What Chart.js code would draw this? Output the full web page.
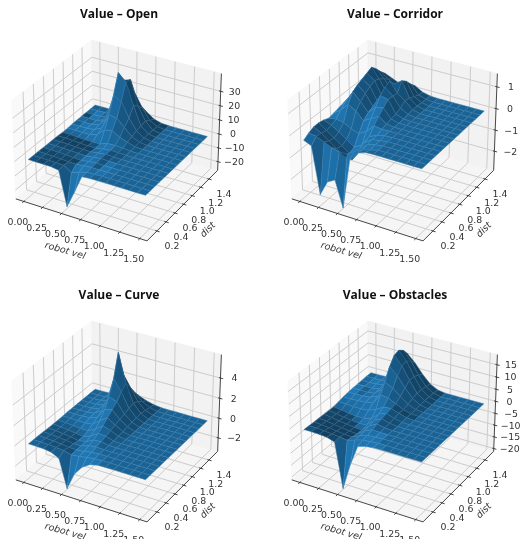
<!DOCTYPE html>
<html>
<head>
<meta charset="utf-8">
<title>Value surfaces</title>
<script src="https://cdn.jsdelivr.net/npm/chart.js@4"></script>
<style>
  html, body { margin: 0; padding: 0; background: #fff; overflow: hidden; }
  body { width: 521px; height: 539px; position: relative; }
  canvas { position: absolute; filter: blur(0.35px); }
</style>
</head>
<body>
<canvas id="open" width="245" height="281" style="left:0;top:0"></canvas>
<canvas id="corridor" width="245" height="281" style="left:276px;top:0"></canvas>
<canvas id="curve" width="245" height="258" style="left:0;top:281px"></canvas>
<canvas id="obstacles" width="245" height="258" style="left:276px;top:281px"></canvas>
<script>
// grid of the surfaces
const robotVel = [0, 0.1, 0.2, 0.3, 0.4, 0.5, 0.6, 0.7, 0.8, 0.9, 1.0, 1.1, 1.2, 1.3, 1.4, 1.5];
const dist = [0.1, 0.2, 0.3, 0.4, 0.5, 0.6, 0.7, 0.8, 0.9, 1.0, 1.1, 1.2, 1.3, 1.4, 1.5];

// one row per dist, one column per robot vel
const valueOpen = [
  [0, 0, -.05, -.1, -1, -25, -13, -.5, -.1, 0, 0, 0, 0, 0, 0, 0],
  [0, -.1, -.25, -.2, -.45, -4, -2, -.4, -.3, -.05, 0, 0, 0, 0, 0, 0],
  [0, -.1, -.3, -.6, -.9, -1.1, -.5, 0, -.2, -.05, 0, 0, 0, 0, 0, 0],
  [-.1, -.2, -.35, -.55, -1, -1.3, -.4, .2, -.1, 0, 0, 0, 0, 0, 0, 0],
  [-.1, -.15, -.3, -.5, -.8, -1, -.3, .3, .05, 0, 0, 0, 0, 0, 0, 0],
  [-.1, -.2, -.35, -.55, -.8, -1, -.3, .4, .1, 0, 0, 0, 0, 0, 0, 0],
  [-.2, -.4, -.6, -.85, -1.1, -1.3, -.3, .5, .2, 0, 0, 0, 0, 0, 0, 0],
  [-.5, -.7, -1, -1.2, -1.4, -1.2, .8, 1, .7, .1, 0, 0, 0, 0, 0, 0],
  [-.4, -.4, -.45, -.4, 1, 6, 7, 4, 2, .4, 0, 0, 0, 0, 0, 0],
  [-.2, -.2, -.1, .5, 3, 14, 13, 8, 3, .6, 0, 0, 0, 0, 0, 0],
  [-.1, -.2, 0, 1, 7, 25, 22, 12, 4.5, .9, 0, 0, 0, 0, 0, 0],
  [0, 0, -.2, 2, 12, 38, 33, 18, 5, 1, 0, 0, 0, 0, 0, 0],
  [0, -.2, .2, 1.5, 9, 30, 32, 15, 6, 1, 0, 0, 0, 0, 0, 0],
  [0, .1, .2, .6, 5, 18, 20, 11, 3.5, .7, 0, 0, 0, 0, 0, 0],
  [0, 0, .1, .3, 2, 8, 10, 5.5, 1.8, .3, 0, 0, 0, 0, 0, 0]
];
const valueCorridor = [
  [-.3, -.45, -2.6, -1.9, -1.7, -2.9, -.55, -.15, -.02, 0, 0, 0, 0, 0, 0, 0],
  [-.15, -.2, -.35, -.5, -.6, -.6, -.35, -.2, -.1, 0, 0, 0, 0, 0, 0, 0],
  [-.05, -.25, -.5, -.75, -1, -1.05, -.45, -.15, -.05, 0, 0, 0, 0, 0, 0, 0],
  [-.05, -.3, -.55, -.8, -1.05, -1, -.35, -.1, -.05, 0, 0, 0, 0, 0, 0, 0],
  [-.1, -.25, -.45, -.7, -.95, -.75, -.25, -.1, -.02, 0, 0, 0, 0, 0, 0, 0],
  [-.2, -.15, -.2, -.4, -.5, -.3, .05, 0, 0, 0, 0, 0, 0, 0, 0, 0],
  [-.15, .1, .45, .25, -.1, .1, .3, .05, 0, 0, 0, 0, 0, 0, 0, 0],
  [-.1, .3, .85, .5, .1, .45, .5, .1, 0, 0, 0, 0, 0, 0, 0, 0],
  [-.05, .4, 1, .7, .2, .8, .7, .15, .02, 0, 0, 0, 0, 0, 0, 0],
  [0, .5, 1.1, .85, .25, 1, .7, .25, .05, 0, 0, 0, 0, 0, 0, 0],
  [.1, .55, 1.2, .95, .3, 1.1, .65, .4, .08, 0, 0, 0, 0, 0, 0, 0],
  [.2, .6, 1.3, .85, .3, .8, 1.05, .35, .08, 0, 0, 0, 0, 0, 0, 0],
  [.25, .6, 1.05, .7, .3, .6, .85, .25, .06, 0, 0, 0, 0, 0, 0, 0],
  [.25, .5, .75, .5, .25, .4, .55, .15, .04, 0, 0, 0, 0, 0, 0, 0],
  [.2, .4, .5, .35, .2, .25, .3, .1, .02, 0, 0, 0, 0, 0, 0, 0]
];
const valueCurve = [
  [0, 0, -.02, -.15, -.5, -3.3, -1.6, -.7, -.2, -.02, 0, 0, 0, 0, 0, 0],
  [0, 0, -.03, -.1, -.15, -.35, -.3, -.15, -.05, 0, 0, 0, 0, 0, 0, 0],
  [0, -.03, -.08, -.15, -.25, -.3, -.2, -.05, 0, 0, 0, 0, 0, 0, 0, 0],
  [-.02, -.06, -.12, -.2, -.32, -.3, -.05, .05, 0, 0, 0, 0, 0, 0, 0, 0],
  [-.04, -.1, -.18, -.28, -.4, -.3, .1, .15, .02, 0, 0, 0, 0, 0, 0, 0],
  [-.05, -.12, -.2, -.3, -.42, -.15, .35, .3, .05, 0, 0, 0, 0, 0, 0, 0],
  [-.05, -.1, -.16, -.24, -.25, .15, .7, .45, .1, 0, 0, 0, 0, 0, 0, 0],
  [-.03, -.05, -.08, -.08, 0, .6, 1.1, .6, .15, 0, 0, 0, 0, 0, 0, 0],
  [0, 0, 0, .05, .3, 1.3, 1.5, .75, .25, 0, 0, 0, 0, 0, 0, 0],
  [0, 0, .02, .1, .6, 2.2, 1.9, .9, .3, .02, 0, 0, 0, 0, 0, 0],
  [0, 0, .03, .15, 1, 3.6, 2.5, 1.1, .35, .03, 0, 0, 0, 0, 0, 0],
  [0, 0, .04, .2, 1.4, 5.8, 3, 1.2, .4, .03, 0, 0, 0, 0, 0, 0],
  [0, 0, .05, .25, 1.1, 3.4, 2.2, 1, .3, .03, 0, 0, 0, 0, 0, 0],
  [0, 0, .03, .2, .7, 1.8, 1.3, .6, .2, .02, 0, 0, 0, 0, 0, 0],
  [0, 0, .02, .1, .35, .8, .6, .3, .1, .01, 0, 0, 0, 0, 0, 0]
];
const valueObstacles = [
  [-1.2, -1.2, -1.3, -1.5, -2.5, -20.8, -10, -1.5, -.5, -.1, 0, 0, 0, 0, 0, 0],
  [-1.3, -1.3, -1.5, -1.9, -2.1, -2.6, -1.5, -.6, -.3, 0, 0, 0, 0, 0, 0, 0],
  [-1.5, -1.7, -2, -2.4, -2.8, -3, -1.5, -.4, -.2, 0, 0, 0, 0, 0, 0, 0],
  [-1.5, -1.9, -2.3, -2.7, -3.1, -3.4, -1.2, .2, 0, 0, 0, 0, 0, 0, 0, 0],
  [-1.6, -2, -2.5, -2.9, -3.3, -3.5, -.8, .8, .2, 0, 0, 0, 0, 0, 0, 0],
  [-1.6, -2.1, -2.6, -3, -3.3, -3.2, -.2, 1.3, .4, 0, 0, 0, 0, 0, 0, 0],
  [-1.7, -2.2, -2.7, -2.9, -2.9, -2.2, .7, 1.8, .7, 0, 0, 0, 0, 0, 0, 0],
  [-1.2, -1.3, -1.5, -1.5, -1.2, 0, 2, 2.2, 1.2, .3, 0, 0, 0, 0, 0, 0],
  [-.8, -.8, -.6, -.4, .2, 4.5, 4, 2.6, 1, .2, 0, 0, 0, 0, 0, 0],
  [-.5, -.3, -.2, .1, 1.5, 8, 6.5, 4, 1.6, .4, 0, 0, 0, 0, 0, 0],
  [-.3, -.2, -.3, .2, 3, 13, 10, 6, 2.4, .6, 0, 0, 0, 0, 0, 0],
  [-.2, -.1, -.2, .5, 4.5, 16, 12.5, 7.5, 3, .8, 0, 0, 0, 0, 0, 0],
  [-.1, -.2, 0, .6, 5, 16.5, 13, 7.5, 3, .8, 0, 0, 0, 0, 0, 0],
  [0, 0, .1, .7, 4.6, 15, 11.5, 6.5, 2.6, .7, 0, 0, 0, 0, 0, 0],
  [0, 0, .1, .6, 3.7, 12, 9, 5.2, 2.1, .5, 0, 0, 0, 0, 0, 0]
];

// axis ticks
const velTicks = [0, 0.25, 0.5, 0.75, 1, 1.25, 1.5];
const velTickLabels = ['0.00', '0.25', '0.50', '0.75', '1.00', '1.25', '1.50'];
const distTicks = [0.2, 0.4, 0.6, 0.8, 1.0, 1.2, 1.4];
const distTickLabels = ['0.2', '0.4', '0.6', '0.8', '1.0', '1.2', '1.4'];
const openTicks = [-20, -10, 0, 10, 20, 30];
const corridorTicks = [-2, -1, 0, 1];
const curveTicks = [-2, 0, 2, 4];
const obstaclesTicks = [-20, -15, -10, -5, 0, 5, 10, 15];

// axis limits
const velLim = [-0.109, 1.59];
const distLim = [-0.014, 1.614];

const VIEW_K = 150.5, VIEW_OX = 118.3, VIEW_OY = 136.4; // view units to canvas px
const BASE = [31, 119, 180]; // surface blue
const LIGHT = [-0.6667, -0.6667, 0.3333]; // az 225, alt 19.47

// same camera as a default mplot3d axes: elev 30, azim -60, box 4:4:3
function project(fx, fy, fz) {
  const dx = fx - 0.5, dy = fy - 0.5, dz = (fz - 0.5) * 0.75;
  const sx = dx * 0.866 + dy * 0.5;
  const sy = -0.25 * dx + 0.433 * dy + 0.866 * dz;
  const depth = 0.433 * dx - 0.75 * dy + 0.5 * dz;
  const f = 10 / (10 - depth);
  return { x: sx * f, y: sy * f, depth };
}

function lineSet(points, color, width) {
  return {
    data: points,
    borderColor: color,
    borderWidth: width,
    pointRadius: 0,
    fill: false
  };
}

function polySet(points, fillColor, edgeColor, width) {
  return {
    data: points.concat([points[0]]),
    borderColor: edgeColor,
    borderWidth: width,
    backgroundColor: fillColor,
    pointRadius: 0,
    fill: 'shape'
  };
}

function shadeColor(a, b, c, d) {
  // normal in data units, as mplot3d does it
  const u = [c.x - a.x, c.y - a.y, c.z - a.z];
  const v = [d.x - b.x, d.y - b.y, d.z - b.z];
  const n = [u[1] * v[2] - u[2] * v[1], u[2] * v[0] - u[0] * v[2], u[0] * v[1] - u[1] * v[0]];
  const len = Math.hypot(n[0], n[1], n[2]) || 1;
  const s = (n[0] * LIGHT[0] + n[1] * LIGHT[1] + n[2] * LIGHT[2]) / len;
  const k = 0.5 + 0.5 * (s + 1) / 2;
  return BASE.map(ch => ch * k);
}

function buildDatasets(grid, zTicks, zLim) {
  const fx = v => (v - velLim[0]) / (velLim[1] - velLim[0]);
  const fy = v => (v - distLim[0]) / (distLim[1] - distLim[0]);
  const fz = v => (v - zLim[0]) / (zLim[1] - zLim[0]);
  const sets = [];

  // panes
  sets.push(polySet([project(0, 0, 0), project(0, 1, 0), project(0, 1, 1), project(0, 0, 1)], '#f9f9f9', '#f4f4f4', 0.5));
  sets.push(polySet([project(0, 1, 0), project(1, 1, 0), project(1, 1, 1), project(0, 1, 1)], '#f2f2f2', '#eeeeee', 0.5));
  sets.push(polySet([project(0, 0, 0), project(1, 0, 0), project(1, 1, 0), project(0, 1, 0)], '#f5f5f5', '#f0f0f0', 0.5));

  // grid lines on the panes
  const gridColor = '#cccccc';
  velTicks.forEach(t => {
    sets.push(lineSet([project(fx(t), 0, 0), project(fx(t), 1, 0), project(fx(t), 1, 1)], gridColor, 1));
  });
  distTicks.forEach(t => {
    sets.push(lineSet([project(1, fy(t), 0), project(0, fy(t), 0), project(0, fy(t), 1)], gridColor, 1));
  });
  zTicks.forEach(t => {
    sets.push(lineSet([project(0, 0, fz(t)), project(0, 1, fz(t)), project(1, 1, fz(t))], gridColor, 1));
  });

  // axis lines and tick marks
  const axisColor = '#333333';
  sets.push(lineSet([project(0, 0, 0), project(1, 0, 0), project(1, 1, 0), project(1, 1, 1)], axisColor, 0.9));
  velTicks.forEach(t => {
    sets.push(lineSet([project(fx(t), -0.02, 0), project(fx(t), 0.012, 0)], axisColor, 0.9));
  });
  distTicks.forEach(t => {
    sets.push(lineSet([project(1.02, fy(t), 0), project(0.988, fy(t), 0)], axisColor, 0.9));
  });
  zTicks.forEach(t => {
    sets.push(lineSet([project(1.02, 1, fz(t)), project(0.988, 1, fz(t))], axisColor, 0.9));
  });

  // surface cells, far ones first
  const cells = [];
  for (let j = 0; j < dist.length - 1; j++) {
    for (let i = 0; i < robotVel.length - 1; i++) {
      const corners = [[i, j], [i + 1, j], [i + 1, j + 1], [i, j + 1]].map(([a, b]) => {
        const p = project(fx(robotVel[a]), fy(dist[b]), fz(grid[b][a]));
        return { sx: p.x, sy: p.y, depth: p.depth, x: robotVel[a], y: dist[b], z: grid[b][a] };
      });
      const color = shadeColor(corners[0], corners[1], corners[2], corners[3]);
      const depth = corners.reduce((sum, c) => sum + c.depth, 0) / 4;
      cells.push({ corners, color, depth });
    }
  }
  cells.sort((a, b) => a.depth - b.depth);
  cells.forEach(cell => {
    const pts = cell.corners.map(c => ({ x: c.sx, y: c.sy }));
    const fillCol = 'rgb(' + cell.color.map(Math.round).join(',') + ')';
    const edgeCol = 'rgb(' + cell.color.map(ch => Math.round(ch + (255 - ch) * 0.16)).join(',') + ')';
    sets.push(polySet(pts, fillCol, edgeCol, 0.5));
  });

  // chart.js paints dataset 0 last
  return sets.reverse();
}

// text of one panel: title, tick labels, axis names
function textPlugin(title, zTicks, zLim) {
  const tickFont = '9.4px "DejaVu Sans"';
  const fx = v => (v - velLim[0]) / (velLim[1] - velLim[0]);
  const fy = v => (v - distLim[0]) / (distLim[1] - distLim[0]);
  const fz = v => (v - zLim[0]) / (zLim[1] - zLim[0]);
  return {
    id: 'panelText',
    afterDatasetsDraw(chart) {
      const ctx = chart.ctx;
      const px = p => ({ x: chart.scales.x.getPixelForValue(p.x), y: chart.scales.y.getPixelForValue(p.y) });
      ctx.save();
      ctx.textAlign = 'center';
      ctx.textBaseline = 'middle';
      ctx.fillStyle = '#111111';
      ctx.font = 'bold 12px "Open Sans"';
      ctx.fillText(title, 119, 15);

      ctx.fillStyle = '#333333';
      ctx.font = tickFont;
      velTicks.forEach((t, n) => {
        const p = px(project(fx(t), 0, 0));
        ctx.fillText(velTickLabels[n], p.x - 6, p.y + 21);
      });
      distTicks.forEach((t, n) => {
        const p = px(project(1, fy(t), 0));
        ctx.fillText(distTickLabels[n], p.x + 15, p.y + 16);
      });
      zTicks.forEach(t => {
        const p = px(project(1, 1, fz(t)));
        const dx = t < 0 ? 16 : 14;
        ctx.fillText(String(t).replace('-', '\u2212'), p.x + dx, p.y + 1);
      });

      ctx.translate(65, 251);
      ctx.rotate(16 * Math.PI / 180);
      ctx.font = 'italic 9.4px "DejaVu Sans"';
      ctx.fillText('robot vel', 0, 0);
      ctx.restore();

      ctx.save();
      ctx.fillStyle = '#333333';
      ctx.textAlign = 'center';
      ctx.textBaseline = 'middle';
      ctx.translate(208, 230);
      ctx.rotate(-45 * Math.PI / 180);
      ctx.font = 'italic 9.4px "DejaVu Sans"';
      ctx.fillText('dist', 0, 0);
      ctx.restore();
    }
  };
}

function drawPanel(id, title, grid, zTicks, zLim) {
  const canvas = document.getElementById(id);
  const W = canvas.width, H = canvas.height;
  new Chart(canvas, {
    type: 'line',
    data: { datasets: buildDatasets(grid, zTicks, zLim) },
    plugins: [textPlugin(title, zTicks, zLim)],
    options: {
      responsive: false,
      animation: false,
      devicePixelRatio: 1,
      events: [],
      layout: { padding: 0 },
      elements: { line: { tension: 0, borderJoinStyle: 'round' } },
      plugins: { legend: { display: false }, tooltip: { enabled: false }, title: { display: false } },
      scales: {
        x: { type: 'linear', display: false, min: (0 - VIEW_OX) / VIEW_K, max: (W - VIEW_OX) / VIEW_K },
        y: { type: 'linear', display: false, min: (VIEW_OY - H) / VIEW_K, max: VIEW_OY / VIEW_K }
      }
    }
  });
}

drawPanel('open', 'Value \u2013 Open', valueOpen, openTicks, [-26.3, 42.2]);
drawPanel('corridor', 'Value \u2013 Corridor', valueCorridor, corridorTicks, [-2.92, 1.6]);
drawPanel('curve', 'Value \u2013 Curve', valueCurve, curveTicks, [-3.39, 6.28]);
drawPanel('obstacles', 'Value \u2013 Obstacles', valueObstacles, obstaclesTicks, [-21.2, 19.1]);
</script>
</body>
</html>
